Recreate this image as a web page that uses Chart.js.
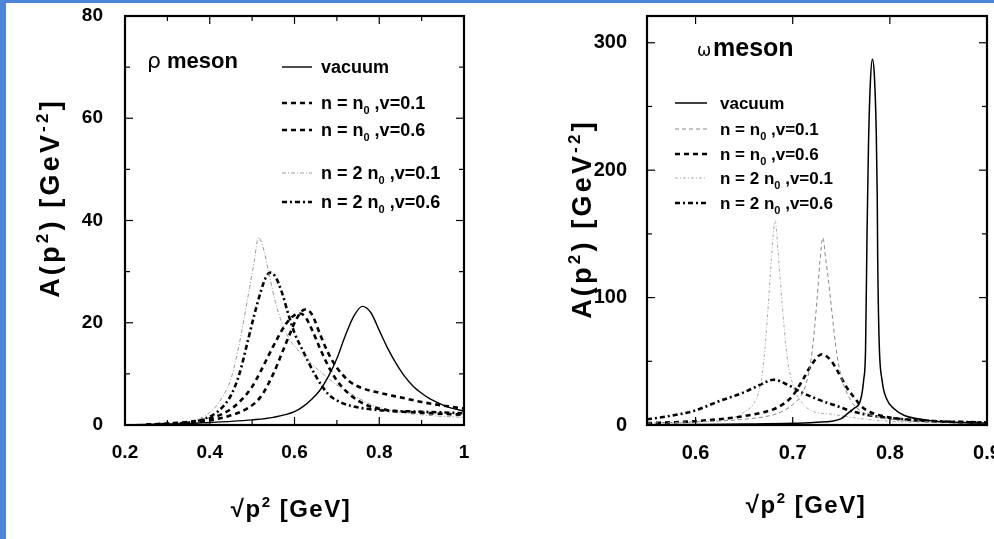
<!DOCTYPE html>
<html>
<head>
<meta charset="utf-8">
<script src="https://cdn.jsdelivr.net/npm/chart.js@4.4.0/dist/chart.umd.min.js"></script>
<style>
  html, body { margin: 0; padding: 0; width: 994px; height: 539px; overflow: hidden; background: #4d86d9; }
  #sheet { position: absolute; left: 6px; top: 3px; width: 988px; height: 536px; background: #fff; overflow: hidden; }
  #rhoChart { position: absolute; left: 0; top: 0; }
  #omegaChart { position: absolute; left: 494px; top: 0; }
</style>
</head>
<body>
<div id="sheet">
  <canvas id="rhoChart" width="494" height="536"></canvas>
  <canvas id="omegaChart" width="520" height="536"></canvas>
</div>
<script>
// ---- labels ----
const seriesLabels = ['vacuum', 'n = n_0 ,v=0.1', 'n = n_0 ,v=0.6', 'n = 2 n_0 ,v=0.1', 'n = 2 n_0 ,v=0.6'];
const yTitleText = 'A(p^2) [GeV^{-2}]';
const xTitleText = '\u221Ap^2 [GeV]';

// ---- rho meson panel ----
const rhoXTicks = [0.2, 0.4, 0.6, 0.8, 1];
const rhoXTickLabels = ['0.2', '0.4', '0.6', '0.8', '1'];
const rhoXMinor = [0.3, 0.5, 0.7, 0.9];
const rhoYTicks = [0, 20, 40, 60, 80];
const rhoYTickLabels = ['0', '20', '40', '60', '80'];
const rhoYMinor = [10, 30, 50, 70];

const rhoVacuum = [[0.22,0.05],[0.3,0.2],[0.35,0.3],[0.4,0.5],[0.45,0.7],[0.5,1.0],[0.55,1.5],[0.6,2.6],[0.62,3.6],[0.64,5],[0.66,6.8],[0.68,9.5],[0.70,13],[0.72,17.5],[0.74,21.3],[0.76,23.2],[0.78,22],[0.80,18.5],[0.82,15],[0.84,12],[0.86,9.5],[0.88,7.6],[0.90,6.2],[0.92,5.1],[0.94,4.3],[0.96,3.6],[0.98,3.1],[1.0,2.7]];
const rhoN0v01 = [[0.25,0.05],[0.3,0.2],[0.35,0.4],[0.4,0.9],[0.45,1.9],[0.49,3.3],[0.52,5.5],[0.55,10],[0.57,14],[0.59,18],[0.605,20.8],[0.625,22.6],[0.635,22.3],[0.645,21],[0.66,17.8],[0.68,14],[0.70,11.2],[0.73,8.5],[0.76,7.2],[0.8,6.3],[0.85,5.4],[0.9,4.5],[0.95,3.8],[1.0,3.2]];
const rhoN0v06 = [[0.25,0.05],[0.3,0.3],[0.35,0.6],[0.4,1.3],[0.44,2.6],[0.47,4.5],[0.50,7.5],[0.52,10.5],[0.54,13.8],[0.56,17],[0.58,19.8],[0.60,21.5],[0.612,21.8],[0.625,21.2],[0.642,18.5],[0.66,15],[0.68,11.5],[0.70,8.7],[0.73,6],[0.77,3.9],[0.82,2.9],[0.9,2.4],[1.0,2.0]];
const rho2N0v01 = [[0.25,0.05],[0.3,0.3],[0.35,0.7],[0.38,1.4],[0.41,3.2],[0.43,5.5],[0.45,9],[0.47,16],[0.49,25],[0.505,32],[0.515,36.7],[0.525,35],[0.54,29.5],[0.555,24],[0.57,20],[0.59,16.5],[0.61,14.5],[0.64,12],[0.67,9.8],[0.70,7.8],[0.74,5.8],[0.78,4.0],[0.82,3.0],[0.86,2.4],[0.9,2.0],[0.95,1.7],[1.0,1.5]];
const rho2N0v06 = [[0.25,0.05],[0.3,0.2],[0.35,0.5],[0.38,1.0],[0.42,2.7],[0.45,5.8],[0.47,10],[0.49,16.5],[0.505,21.5],[0.52,26],[0.533,29],[0.543,29.8],[0.555,29],[0.57,26],[0.585,21.8],[0.60,18],[0.62,14.5],[0.65,9.6],[0.68,6],[0.71,4.4],[0.74,3.6],[0.8,2.9],[0.9,2.6],[1.0,2.3]];

// ---- omega meson panel ----
const omegaXTicks = [0.6, 0.7, 0.8, 0.9];
const omegaXTickLabels = ['0.6', '0.7', '0.8', '0.9'];
const omegaXMinor = [];
const omegaYTicks = [0, 100, 200, 300];
const omegaYTickLabels = ['0', '100', '200', '300'];
const omegaYMinor = [50, 150, 250];

const omegaVacuum = [[0.55,0.2],[0.6,0.4],[0.65,0.7],[0.70,1.3],[0.725,2.2],[0.74,3],[0.75,5],[0.756,8.7],[0.763,13],[0.7696,19],[0.773,35],[0.775,60],[0.7765,150],[0.778,220],[0.78,270],[0.782,287],[0.784,275],[0.786,230],[0.787,180],[0.7875,130],[0.789,65],[0.792,35],[0.797,20],[0.804,13],[0.815,7.5],[0.831,4.7],[0.85,2.8],[0.88,1.8],[0.9,1.5]];
const omegaN0v01 = [[0.55,1.5],[0.6,2.5],[0.65,4.5],[0.68,8],[0.69,11],[0.70,16],[0.71,25],[0.715,36],[0.72,58],[0.725,98],[0.728,128],[0.731,147],[0.734,130],[0.737,112],[0.739,98],[0.745,58],[0.75,38],[0.76,19],[0.77,11],[0.78,7.5],[0.80,4.5],[0.83,2.8],[0.86,2],[0.9,1.4]];
const omegaN0v06 = [[0.55,1.5],[0.563,1.8],[0.6,3],[0.63,5],[0.65,7],[0.67,10],[0.685,14],[0.70,23],[0.71,35],[0.72,48],[0.73,55.5],[0.74,50],[0.746,42.5],[0.756,29],[0.766,19],[0.77,15],[0.78,10],[0.79,7.5],[0.80,5.8],[0.82,4],[0.85,2.8],[0.9,1.8]];
const omega2N0v01 = [[0.55,1.0],[0.6,2.3],[0.62,3.2],[0.64,6],[0.65,10],[0.66,17],[0.665,26],[0.67,48],[0.675,96],[0.678,130],[0.682,160],[0.685,135],[0.689,96],[0.694,55],[0.70,32],[0.71,17],[0.72,11],[0.74,8.5],[0.77,5],[0.8,3],[0.85,1.8],[0.9,1.2]];
const omega2N0v06 = [[0.55,4.5],[0.563,5.8],[0.58,8],[0.598,11],[0.625,18.9],[0.649,25.4],[0.665,31],[0.68,35.5],[0.695,31.5],[0.708,26],[0.728,19.5],[0.745,15],[0.76,11],[0.78,7.5],[0.8,5.5],[0.84,3.2],[0.9,2]];

// ---- line styles ----
const rhoStyles = [
    { color: '#000', width: 1.4, dash: [] },
    { color: '#000', width: 2.6, dash: [5, 4] },
    { color: '#000', width: 2.6, dash: [5, 4] },
    { color: '#999', width: 1, dash: [4, 2, 1, 2] },
    { color: '#000', width: 2.6, dash: [5, 3, 2, 3] }
];
const omegaStyles = [
    { color: '#000', width: 1.5, dash: [] },
    { color: '#888', width: 1, dash: [4, 3] },
    { color: '#000', width: 2.6, dash: [5, 4] },
    { color: '#aaa', width: 1, dash: [3, 2, 1, 2] },
    { color: '#000', width: 2.6, dash: [5, 3, 2, 3] }
];

const FONT = '"Liberation Sans", Arial, Helvetica, sans-serif';

// text with ^x / _x super and subscripts
function parseRich(str) {
    const parts = [];
    const re = /(\^\{[^}]*\}|_\{[^}]*\}|\^.|_.)/g;
    let last = 0, m;
    while ((m = re.exec(str))) {
        if (m.index > last) parts.push({ t: str.slice(last, m.index), k: 0 });
        let body = m[0].slice(1);
        if (body[0] === '{') body = body.slice(1, -1);
        parts.push({ t: body, k: m[0][0] === '^' ? 1 : -1 });
        last = re.lastIndex;
    }
    if (last < str.length) parts.push({ t: str.slice(last), k: 0 });
    return parts;
}

function drawRich(ctx, str, x, y, size, align, spacing) {
    const parts = parseRich(str);
    const fontFor = k => 'bold ' + (k ? Math.round(size * 0.62) : size) + 'px ' + FONT;
    ctx.letterSpacing = (spacing || 0) + 'px';
    let total = 0;
    parts.forEach(p => { ctx.font = fontFor(p.k); p.w = ctx.measureText(p.t).width; total += p.w; });
    let cx = align === 'center' ? x - total / 2 : x;
    ctx.textAlign = 'left';
    ctx.textBaseline = 'alphabetic';
    ctx.fillStyle = '#000';
    parts.forEach(p => {
        ctx.font = fontFor(p.k);
        const dy = p.k === 1 ? -size * 0.42 : (p.k === -1 ? size * 0.3 : 0);
        ctx.fillText(p.t, cx, y + dy);
        cx += p.w;
    });
    ctx.letterSpacing = '0px';
}

function makeDecor(cfg) {
    return {
        id: 'decor',
        afterDatasetsDraw(chart) {
            const { ctx, chartArea: a } = chart;
            const xs = chart.scales.x, ys = chart.scales.y;
            ctx.save();
            ctx.strokeStyle = '#000';
            ctx.setLineDash([]);
            ctx.lineWidth = 1.2;
            const seg = (x1, y1, x2, y2) => { ctx.beginPath(); ctx.moveTo(x1, y1); ctx.lineTo(x2, y2); ctx.stroke(); };
            const xTick = (v, len) => { const p = xs.getPixelForValue(v); seg(p, a.bottom, p, a.bottom - len); seg(p, a.top, p, a.top + len); };
            const yTick = (v, len) => { const p = ys.getPixelForValue(v); seg(a.left, p, a.left + len, p); seg(a.right, p, a.right - len, p); };
            cfg.xMajor.forEach(v => xTick(v, 8));
            cfg.xMinor.forEach(v => xTick(v, 5));
            cfg.yMajor.forEach(v => yTick(v, 8));
            cfg.yMinor.forEach(v => yTick(v, 5));
            ctx.lineWidth = 2.2;
            ctx.strokeRect(a.left, a.top, a.right - a.left, a.bottom - a.top);

            // panel title
            ctx.fillStyle = '#000';
            ctx.textAlign = 'left';
            ctx.textBaseline = 'alphabetic';
            ctx.font = cfg.title.symbolSize + 'px "DejaVu Sans", sans-serif';
            ctx.fillText(cfg.title.symbol, cfg.title.x, cfg.title.y);
            ctx.font = 'bold ' + cfg.title.size + 'px ' + FONT;
            ctx.fillText(cfg.title.word, cfg.title.wx, cfg.title.y);

            // legend
            const lg = cfg.legend;
            seriesLabels.forEach((label, i) => {
                const st = cfg.styles[i];
                const yy = lg.rows[i];
                ctx.strokeStyle = st.color;
                ctx.lineWidth = st.width;
                ctx.setLineDash(st.dash);
                seg(lg.x0, yy, lg.x1, yy);
                ctx.setLineDash([]);
                drawRich(ctx, label, lg.tx, yy + lg.size * 0.33, lg.size, 'left', 0);
            });

            // axis titles
            drawRich(ctx, xTitleText, cfg.xTitle.x, cfg.xTitle.y, cfg.xTitle.size, 'center', cfg.xTitle.spacing);
            ctx.save();
            ctx.translate(cfg.yTitle.x, cfg.yTitle.y);
            ctx.rotate(-Math.PI / 2);
            drawRich(ctx, yTitleText, 0, 0, cfg.yTitle.size, 'center', cfg.yTitle.spacing);
            ctx.restore();
            ctx.restore();
        }
    };
}

function makeChart(id, series, styles, cfg) {
    const datasets = series.map((pts, i) => ({
        label: seriesLabels[i],
        data: pts.map(p => ({ x: p[0], y: p[1] })),
        borderColor: styles[i].color,
        borderWidth: styles[i].width,
        borderDash: styles[i].dash,
        pointRadius: 0,
        fill: false,
        cubicInterpolationMode: 'monotone'
    }));
    const tickFont = { family: FONT, size: cfg.tickSize, weight: 'bold' };
    return new Chart(document.getElementById(id), {
        type: 'line',
        data: { datasets: datasets },
        options: {
            responsive: false,
            animation: false,
            layout: { padding: { left: 0, top: 13, right: cfg.padRight, bottom: 0 } },
            plugins: { legend: { display: false }, tooltip: { enabled: false } },
            scales: {
                x: {
                    type: 'linear',
                    min: cfg.xMin,
                    max: cfg.xMax,
                    afterBuildTicks: s => { s.ticks = cfg.xMajor.map(v => ({ value: v })); },
                    afterFit: s => { s.height = 114; s.paddingLeft = 0; s.paddingRight = 0; },
                    ticks: {
                        font: tickFont, color: '#000', padding: 16, maxRotation: 0, autoSkip: false,
                        callback: (v, i) => cfg.xLabels[i]
                    },
                    grid: { display: false, drawTicks: false },
                    border: { display: false }
                },
                y: {
                    type: 'linear',
                    min: cfg.yMin,
                    max: cfg.yMax,
                    afterBuildTicks: s => { s.ticks = cfg.yMajor.map(v => ({ value: v })); },
                    afterFit: s => { s.width = cfg.yWidth; s.paddingTop = 0; s.paddingBottom = 0; },
                    ticks: {
                        font: tickFont, color: '#000', padding: cfg.yPad,
                        callback: (v, i) => cfg.yLabels[i]
                    },
                    grid: { display: false, drawTicks: false },
                    border: { display: false }
                }
            }
        },
        plugins: [makeDecor(cfg)]
    });
}

makeChart('rhoChart', [rhoVacuum, rhoN0v01, rhoN0v06, rho2N0v01, rho2N0v06], rhoStyles, {
    xMin: 0.2, xMax: 1, yMin: 0, yMax: 80,
    xMajor: rhoXTicks, xLabels: rhoXTickLabels, xMinor: rhoXMinor,
    yMajor: rhoYTicks, yLabels: rhoYTickLabels, yMinor: rhoYMinor,
    tickSize: 19, yWidth: 119, yPad: 22, padRight: 36,
    styles: rhoStyles,
    title: { symbol: '\u03C1', symbolSize: 22, word: 'meson', size: 22, x: 141, wx: 161, y: 65 },
    legend: { x0: 276, x1: 306, tx: 315, size: 18, rows: [64, 100, 127, 170, 199] },
    xTitle: { x: 285, y: 514, size: 24, spacing: 1.5 },
    yTitle: { x: 53, y: 195, size: 27, spacing: 3.2 }
});

makeChart('omegaChart', [omegaVacuum, omegaN0v01, omegaN0v06, omega2N0v01, omega2N0v06], omegaStyles, {
    xMin: 0.55, xMax: 0.9, yMin: 0, yMax: 321,
    xMajor: omegaXTicks, xLabels: omegaXTickLabels, xMinor: omegaXMinor,
    yMajor: omegaYTicks, yLabels: omegaYTickLabels, yMinor: omegaYMinor,
    tickSize: 20, yWidth: 147, yPad: 20, padRight: 33,
    styles: omegaStyles,
    title: { symbol: '\u03C9', symbolSize: 17, word: 'meson', size: 25, x: 197, wx: 213, y: 53 },
    legend: { x0: 175, x1: 207, tx: 220, size: 17, rows: [100, 126, 151, 175, 200] },
    xTitle: { x: 306, y: 510, size: 24, spacing: 1.5 },
    yTitle: { x: 91, y: 216, size: 27, spacing: 3.2 }
});
</script>
</body>
</html>
